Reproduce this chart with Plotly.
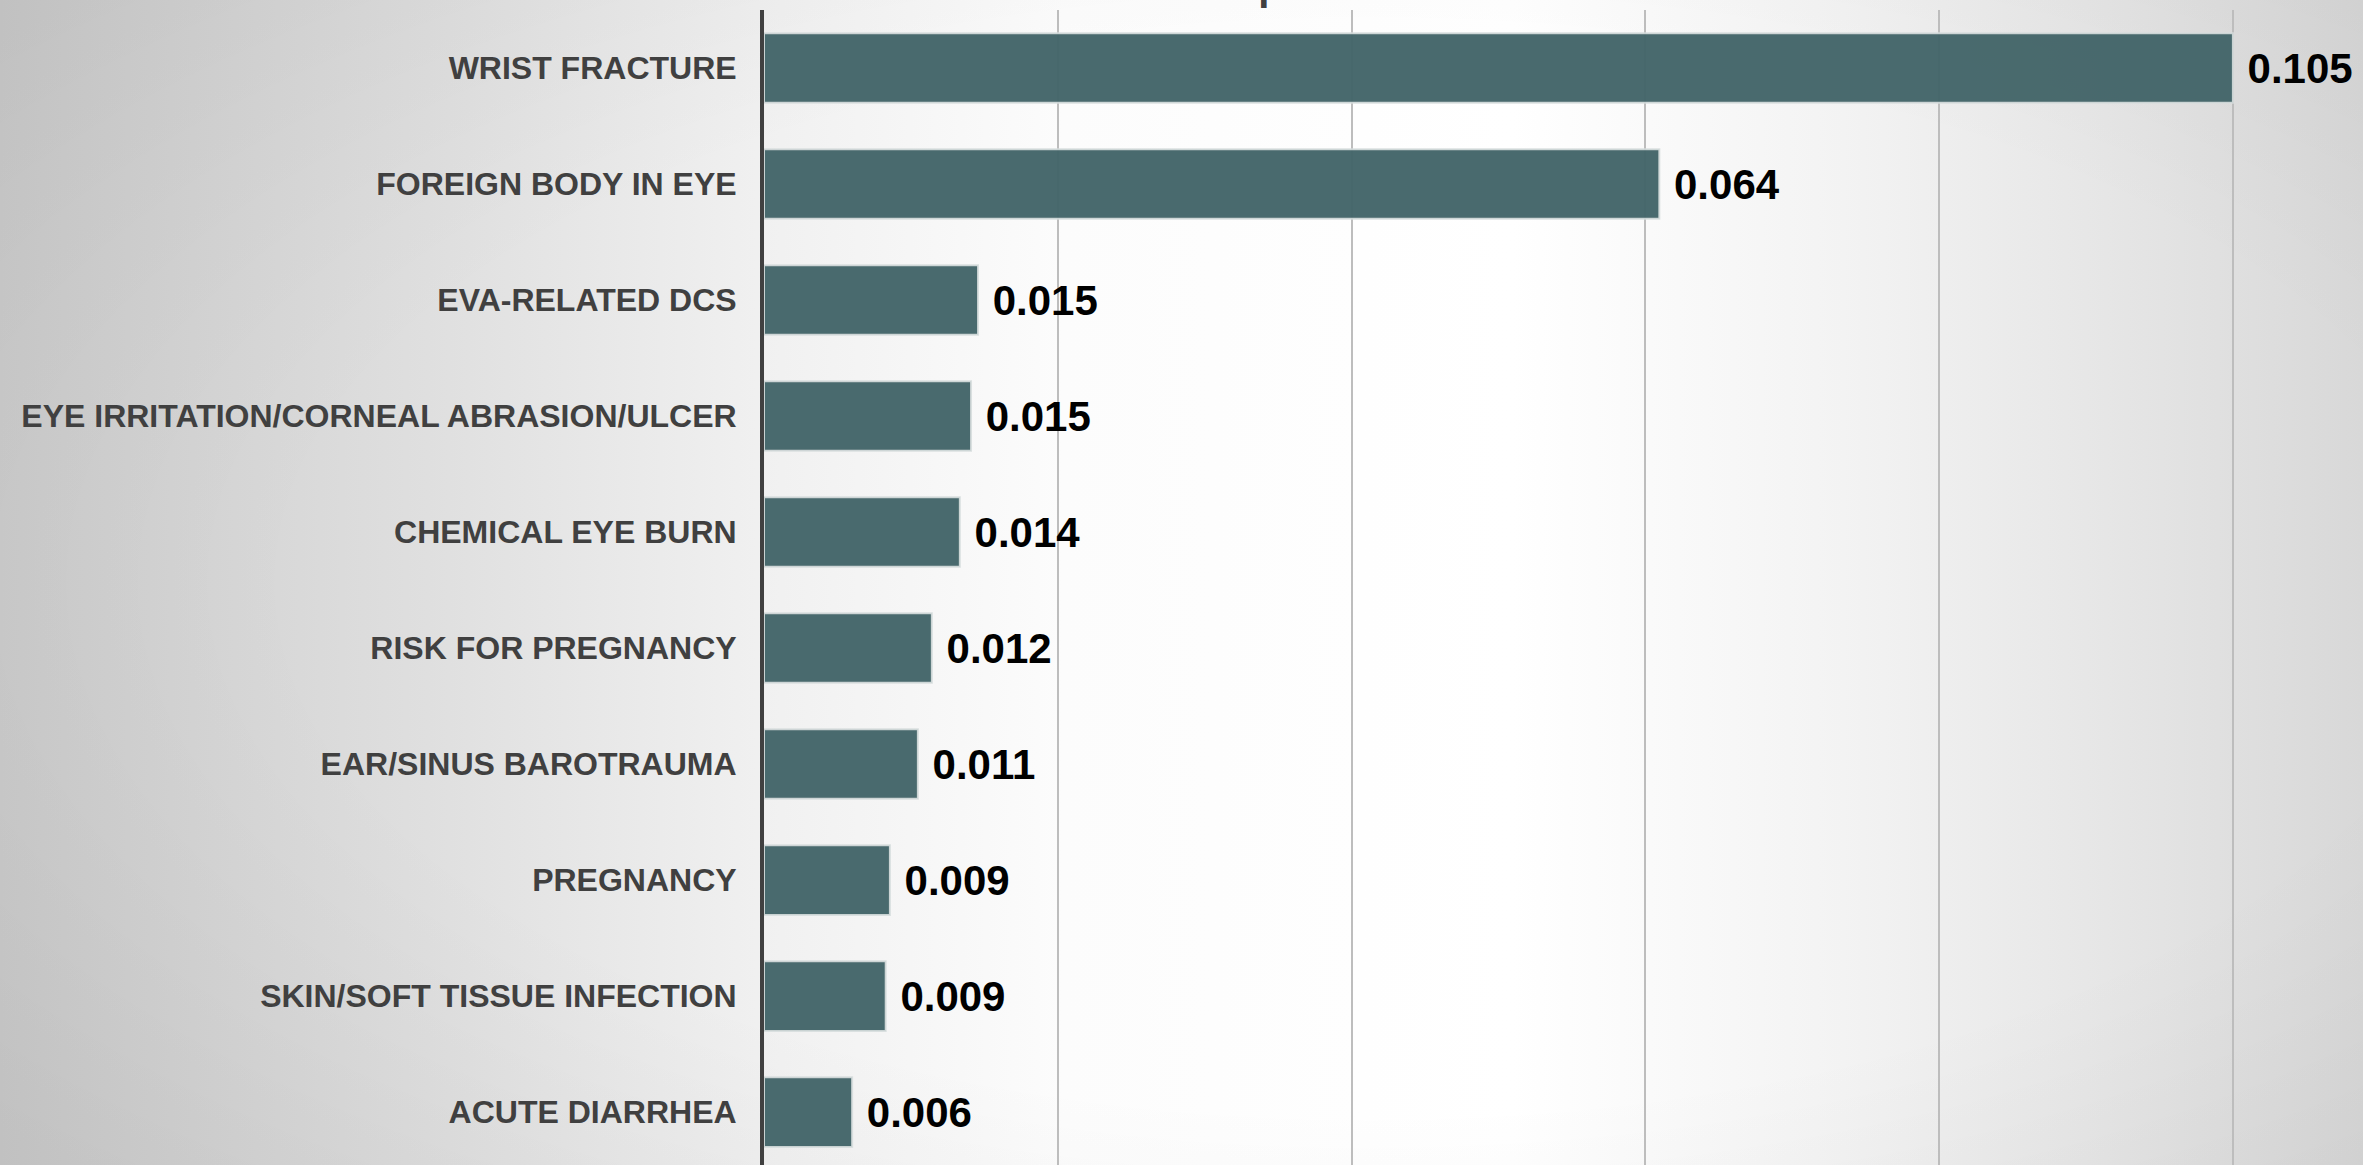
import base64
import plotly.graph_objects as go

# ---- data ----
categories = [
    "WRIST FRACTURE",
    "FOREIGN BODY IN EYE",
    "EVA-RELATED DCS",
    "EYE IRRITATION/CORNEAL ABRASION/ULCER",
    "CHEMICAL EYE BURN",
    "RISK FOR PREGNANCY",
    "EAR/SINUS BAROTRAUMA",
    "PREGNANCY",
    "SKIN/SOFT TISSUE INFECTION",
    "ACUTE DIARRHEA",
]
values = [0.105, 0.064, 0.0153, 0.0148, 0.014, 0.012, 0.011, 0.009, 0.0087, 0.0063]
title_text = "Events per Person-Year"

W, H = 2363, 1165
TOP = 10

# ---- background gradient (decoration) ----
svg = f'''<svg xmlns="http://www.w3.org/2000/svg" width="{W}" height="{H}" viewBox="0 0 {W} {H}" preserveAspectRatio="none">
<defs>
<linearGradient id="h" x1="0" y1="0" x2="1" y2="0">
<stop offset="0" stop-color="#cbcbcb"/>
<stop offset="0.19" stop-color="#e0e0e0"/>
<stop offset="0.32" stop-color="#f0f0f0"/>
<stop offset="0.45" stop-color="#fcfcfc"/>
<stop offset="0.64" stop-color="#ffffff"/>
<stop offset="0.78" stop-color="#f3f3f3"/>
<stop offset="0.9" stop-color="#e5e5e5"/>
<stop offset="1" stop-color="#d8d8d8"/>
</linearGradient>
<radialGradient id="r" cx="0.58" cy="0.5" r="0.75">
<stop offset="0" stop-color="#000000" stop-opacity="0"/>
<stop offset="0.6" stop-color="#000000" stop-opacity="0"/>
<stop offset="1" stop-color="#000000" stop-opacity="0.05"/>
</radialGradient>
</defs>
<rect x="0" y="0" width="{W}" height="{H}" fill="url(#h)"/>
<rect x="0" y="0" width="{W}" height="{H}" fill="url(#r)"/>
</svg>'''
bg_uri = "data:image/svg+xml;base64," + base64.b64encode(svg.encode()).decode()

plot_h = H - TOP
x_left = 764

fig = go.Figure()
fig.add_trace(go.Bar(
    x=values,
    y=categories,
    orientation="h",
    marker=dict(color="#44666a", opacity=0.97,
                line=dict(color="rgba(215,222,222,0.9)", width=2)),
    width=0.6,
    texttemplate="\u00a0%{x:.3f}",
    textposition="outside",
    constraintext="none",
    cliponaxis=False,
    textfont=dict(family="Liberation Sans, Arial, sans-serif", size=42,
                  color="#000000", weight="bold"),
    hoverinfo="skip",
))

fig.add_annotation(
    text=title_text, xref="paper", yref="paper",
    x=(1340 - x_left) / (W - x_left), y=1.0, yshift=1,
    xanchor="center", yanchor="bottom", showarrow=False, borderpad=0,
    font=dict(family="Liberation Sans, Arial, sans-serif", size=40,
              color="#404040", weight="bold"),
)

fig.add_layout_image(dict(
    source=bg_uri, xref="paper", yref="paper",
    x=-x_left / (W - x_left), y=1 + TOP / plot_h,
    sizex=W / (W - x_left), sizey=H / plot_h,
    xanchor="left", yanchor="top", sizing="stretch", layer="below",
))

fig.update_layout(
    width=W, height=H,
    margin=dict(l=x_left, r=0, t=TOP, b=0, pad=0),
    paper_bgcolor="#eeeeee",
    plot_bgcolor="rgba(0,0,0,0)",
    showlegend=False,
    bargap=0.4,
    xaxis=dict(
        range=[0, 0.1143], dtick=0.021, tick0=0,
        showgrid=True, gridcolor="#bdbdbd", gridwidth=1.5,
        zeroline=False, showticklabels=False, showline=False, ticks="",
        fixedrange=True,
    ),
    yaxis=dict(
        categoryorder="array", categoryarray=categories,
        range=[9.456, -0.5],
        showline=True, linecolor="#404040", linewidth=4,
        showgrid=False, zeroline=False, ticks="",
        ticklabelstandoff=17,
        tickfont=dict(family="Liberation Sans, Arial, sans-serif", size=32,
                      color="#404040", weight="bold"),
        fixedrange=True, automargin=False,
    ),
)

fig.write_html(
    "out.html",
    config={"displayModeBar": False},
    post_script="document.body.style.margin='0';document.body.style.overflow='hidden';",
)
